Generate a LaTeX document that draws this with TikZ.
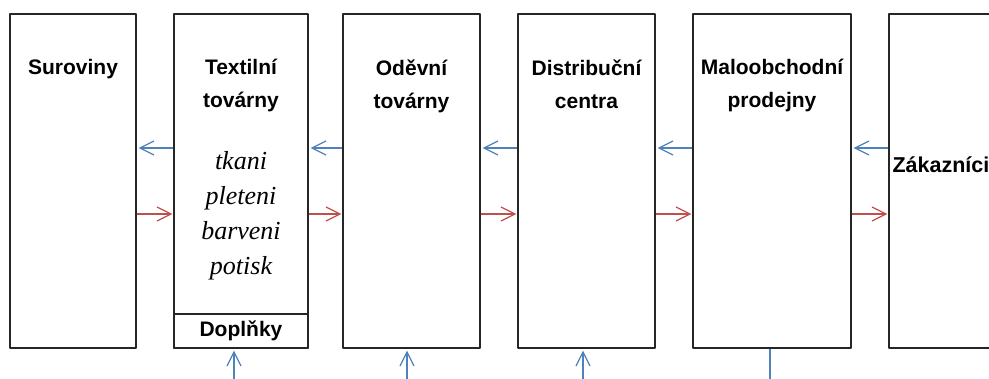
\documentclass[tikz,border=0pt]{standalone}
\usepackage{fontspec}
\setmainfont{Liberation Serif}
\newfontfamily\boxfont{Liberation Sans}
\usetikzlibrary{positioning,arrows.meta}
\definecolor{backblue}{HTML}{4F81BD}
\definecolor{forthred}{HTML}{C0504D}
\begin{document}
\begin{tikzpicture}[x=1pt,y=-1pt,line join=round,
	>={Straight Barb[length=14pt,width=14pt]},
	stage/.style={draw=black!85,line width=1.3pt,minimum height=334pt,inner sep=0pt},
	ttl/.style={font=\boxfont\fontsize{21}{33}\selectfont\bfseries,align=center,inner sep=0pt},
	work/.style={font=\itshape\fontsize{26}{35}\selectfont,align=center,inner sep=0pt},
	back/.style={->,draw=backblue,line width=1.2pt,shorten >=2pt},
	forth/.style={->,draw=forthred,line width=1.2pt,shorten >=1pt}]
		\useasboundingbox (0,0) rectangle (989,379);
		\clip (0,0) rectangle (989,379);
		\node[stage,minimum width=126pt] (surov) at (73,181) {};
		\node[stage,minimum width=134pt] (textil) at (241,181) {};
		\node[stage,minimum width=137pt] (odevni) at (411.5,181) {};
		\node[stage,minimum width=137pt] (distrib) at (586.5,181) {};
		\node[stage,minimum width=158pt] (malo) at (772,181) {};
		\node[stage,minimum width=130pt] (zak) at (954,181) {};
		\node[stage,minimum width=134pt,minimum height=34pt,anchor=south] (dopl) at (textil.south) {};
		% nazvy
		\node[ttl,anchor=north] at ([yshift=-46pt]surov.north) {Suroviny};
		\node[ttl,anchor=north] at ([yshift=-46pt]textil.north) {Textilní\\továrny};
		\node[ttl,anchor=north] at ([yshift=-46pt]odevni.north) {Oděvní\\továrny};
		\node[ttl,anchor=north] at ([yshift=-46pt]distrib.north) {Distribuční\\centra};
		\node[ttl,anchor=north] at ([yshift=-46pt]malo.north) {Maloobchodní\\prodejny};
		\node[ttl,anchor=west,font=\boxfont\fontsize{21.5}{33}\selectfont\bfseries] at ([xshift=4pt,yshift=16pt]zak.west) {Zákazníci};
		\node[ttl] at (dopl) {Doplňky};
		\node[work] at (241,216) {tkani\\pleteni\\barveni\\potisk};
		% toky
		\foreach \a/\b in {surov/textil,textil/odevni,odevni/distrib,distrib/malo,malo/zak}{
			\draw[back] ([yshift=33pt]\b.west) -- ([yshift=33pt]\a.east);
			\draw[forth] ([yshift=-33pt]\a.east) -- ([yshift=-33pt]\b.west);
		}
		\coordinate (floor) at (0,379.6);
		\draw[back] ([xshift=-7pt]dopl.south |- floor) -- ([xshift=-7pt]dopl.south);
		\draw[back] ([xshift=-4.5pt]odevni.south |- floor) -- ([xshift=-4.5pt]odevni.south);
		\draw[back] ([xshift=-3.5pt]distrib.south |- floor) -- ([xshift=-3.5pt]distrib.south);
		\draw[draw=backblue,line width=1.4pt] ([xshift=-2pt]malo.south) -- ([xshift=-2pt]malo.south |- floor) -- (347,379.6);
\end{tikzpicture}
\end{document}
